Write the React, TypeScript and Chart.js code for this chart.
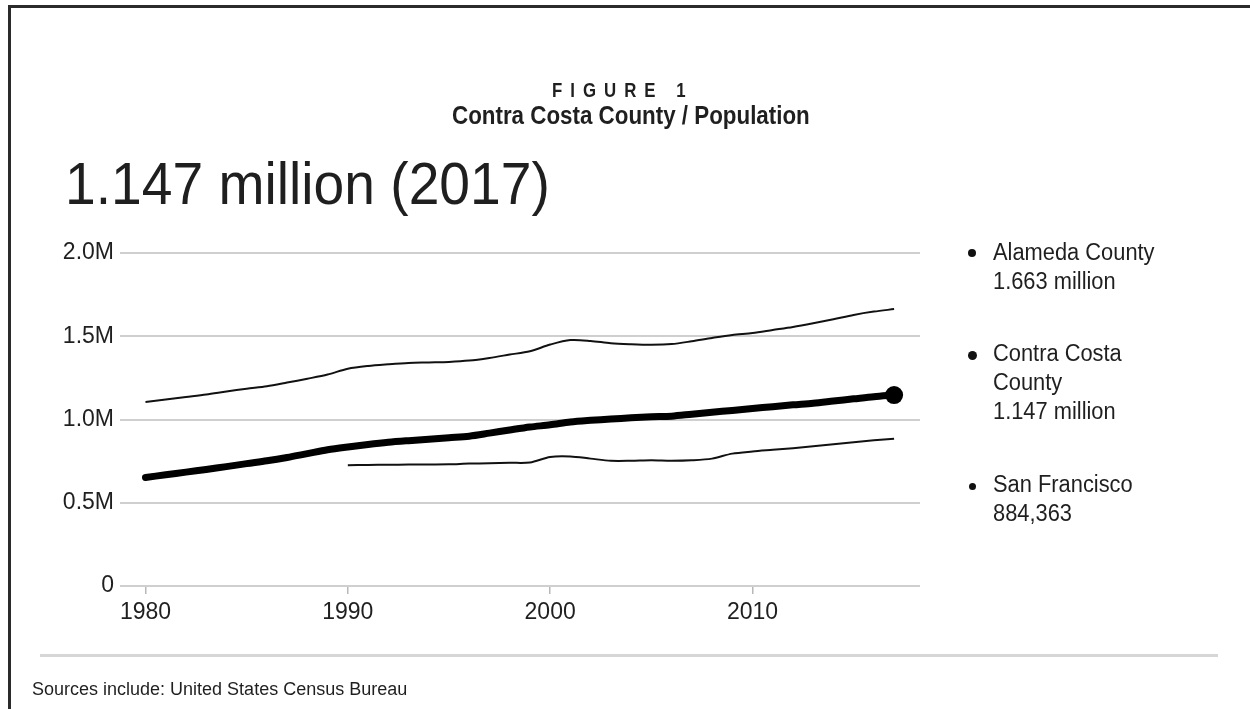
import React, { useEffect, useRef } from "react";
import { Chart, registerables } from "chart.js";

Chart.register(...registerables);

// Population in millions, by year
const years = [
  1980, 1981, 1982, 1983, 1984, 1985, 1986, 1987, 1988, 1989,
  1990, 1991, 1992, 1993, 1994, 1995, 1996, 1997, 1998, 1999,
  2000, 2001, 2002, 2003, 2004, 2005, 2006, 2007, 2008, 2009,
  2010, 2011, 2012, 2013, 2014, 2015, 2016, 2017,
];
const alameda = [
  1.105, 1.12, 1.135, 1.15, 1.168, 1.185, 1.2, 1.222, 1.245, 1.27,
  1.305, 1.322, 1.332, 1.34, 1.343, 1.346, 1.354, 1.37, 1.39, 1.41,
  1.45, 1.477, 1.472, 1.458, 1.452, 1.449, 1.453, 1.47, 1.49, 1.508,
  1.52, 1.538, 1.556, 1.578, 1.602, 1.628, 1.648, 1.663,
];
const contraCosta = [
  0.652, 0.668, 0.684, 0.7, 0.717, 0.735, 0.752, 0.772, 0.795, 0.818,
  0.835, 0.85, 0.863, 0.873, 0.882, 0.891, 0.9, 0.918, 0.937, 0.955,
  0.968, 0.985, 0.995, 1.003, 1.01, 1.016, 1.02, 1.032, 1.044, 1.054,
  1.066, 1.077, 1.088, 1.098, 1.111, 1.124, 1.137, 1.147,
];
const sfYears = [
  1990, 1991, 1992, 1993, 1994, 1995, 1996, 1997, 1998, 1999,
  2000, 2001, 2002, 2003, 2004, 2005, 2006, 2007, 2008, 2009,
  2010, 2011, 2012, 2013, 2014, 2015, 2016, 2017,
];
const sanFrancisco = [
  0.725, 0.727, 0.728, 0.729, 0.73, 0.731, 0.735, 0.737, 0.74, 0.742,
  0.775, 0.778, 0.765, 0.752, 0.752, 0.755, 0.752, 0.755, 0.765, 0.795,
  0.808, 0.818, 0.828, 0.84, 0.852, 0.864, 0.875, 0.884,
];

const xTicks = [1980, 1990, 2000, 2010];
const yTicks = [0, 0.5, 1.0, 1.5, 2.0];
const yTickLabels = ["0", "0.5M", "1.0M", "1.5M", "2.0M"];

const legendItems = [
  { lines: ["Alameda County", "1.663 million"], top: 238, dot: 253, r: 4 },
  { lines: ["Contra Costa", "County", "1.147 million"], top: 339, dot: 355, r: 4.5 },
  { lines: ["San Francisco", "884,363"], top: 470, dot: 486, r: 3.5 },
];

const FONT = '"Liberation Sans", Arial, sans-serif';
const INK = "#1f1f1f";

function toPoints(xs: number[], ys: number[]) {
  return xs.map((x, i) => ({ x, y: ys[i] }));
}

function PopulationChart() {
  const ref = useRef<HTMLCanvasElement | null>(null);

  useEffect(() => {
    if (!ref.current) return;
    const tickFont = { family: FONT, size: 23 };
    const last = years.length - 1;
    const chart = new Chart(ref.current, {
      type: "line",
      data: {
        datasets: [
          {
            label: "Alameda County",
            data: toPoints(years, alameda),
            borderColor: "#111",
            borderWidth: 2,
            tension: 0.3,
            pointRadius: 0,
          },
          {
            label: "Contra Costa County",
            data: toPoints(years, contraCosta),
            borderColor: "#000",
            backgroundColor: "#000",
            borderWidth: 7,
            borderCapStyle: "round",
            tension: 0.3,
            pointRadius: (c: any) => (c.dataIndex === last ? 9 : 0),
            pointBorderWidth: 0,
          },
          {
            label: "San Francisco",
            data: toPoints(sfYears, sanFrancisco),
            borderColor: "#111",
            borderWidth: 2,
            tension: 0.3,
            pointRadius: 0,
          },
        ],
      },
      options: {
        animation: false,
        responsive: true,
        maintainAspectRatio: false,
        layout: { padding: { left: 0, top: 253, right: 330, bottom: 0 } },
        plugins: { legend: { display: false }, tooltip: { enabled: false } },
        scales: {
          x: {
            type: "linear",
            min: 1978.74,
            max: 2018.28,
            afterBuildTicks: (s: any) => {
              s.ticks = xTicks.map((v) => ({ value: v }));
            },
            afterFit: (s: any) => {
              s.height = 123;
            },
            border: { display: false },
            grid: {
              drawOnChartArea: false,
              drawTicks: true,
              tickLength: 8,
              color: "#b8b8b8",
              lineWidth: 1.5,
            },
            ticks: {
              font: tickFont,
              color: INK,
              padding: 5,
              maxRotation: 0,
              autoSkip: false,
              callback: (v: any) => String(v),
            },
          },
          y: {
            min: 0,
            max: 2,
            afterBuildTicks: (s: any) => {
              s.ticks = yTicks.map((v) => ({ value: v }));
            },
            afterFit: (s: any) => {
              s.width = 120;
            },
            border: { display: false },
            grid: { color: "#cfcfcf", lineWidth: 2, drawTicks: false },
            ticks: {
              font: tickFont,
              color: INK,
              padding: 6,
              callback: (v: any) => yTickLabels[yTicks.indexOf(v)],
            },
          },
        },
      },
    } as any);
    return () => chart.destroy();
  }, []);

  return (
    <div style={{ position: "absolute", left: 0, top: 0, width: 1250, height: 709 }}>
      <canvas ref={ref} />
    </div>
  );
}

export default function App() {
  const squeeze = (sx: number): React.CSSProperties => ({
    display: "inline-block",
    transform: `scaleX(${sx})`,
    transformOrigin: "left top",
    whiteSpace: "nowrap",
  });

  return (
    <div
      style={{
        position: "fixed",
        left: 0,
        top: 0,
        width: 1250,
        height: 709,
        background: "#fff",
        overflow: "hidden",
        fontFamily: FONT,
        color: INK,
      }}
    >
      {/* frame */}
      <div style={{ position: "absolute", left: 8, top: 5, width: 1242, height: 3, background: "#2b2b2b" }} />
      <div style={{ position: "absolute", left: 8, top: 5, width: 3, height: 704, background: "#2b2b2b" }} />

      <PopulationChart />

      {/* headings */}
      <div
        style={{
          position: "absolute",
          left: 552,
          top: 78,
          fontWeight: 700,
          fontSize: 21,
          lineHeight: "24px",
          letterSpacing: 10,
          ...squeeze(0.8),
        }}
      >
        FIGURE 1
      </div>
      <div
        style={{
          position: "absolute",
          left: 452,
          top: 100,
          fontWeight: 700,
          fontSize: 26,
          lineHeight: "30px",
          ...squeeze(0.86),
        }}
      >
        Contra Costa County / Population
      </div>
      <div
        style={{
          position: "absolute",
          left: 65,
          top: 154,
          fontSize: 60,
          lineHeight: "60px",
          ...squeeze(0.92),
        }}
      >
        1.147 million (2017)
      </div>

      {/* series legend */}
      {legendItems.map((it) => (
        <React.Fragment key={it.lines[0]}>
          <div
            style={{
              position: "absolute",
              left: 972 - it.r,
              top: it.dot - it.r,
              width: it.r * 2,
              height: it.r * 2,
              borderRadius: "50%",
              background: "#111",
            }}
          />
          <div
            style={{
              position: "absolute",
              left: 993,
              top: it.top,
              fontSize: 23,
              lineHeight: "29px",
              ...squeeze(0.95),
            }}
          >
            {it.lines.map((l) => (
              <div key={l}>{l}</div>
            ))}
          </div>
        </React.Fragment>
      ))}

      {/* footer */}
      <div style={{ position: "absolute", left: 40, top: 654, width: 1178, height: 3, background: "#d6d6d6" }} />
      <div
        style={{
          position: "absolute",
          left: 32,
          top: 679,
          fontSize: 18,
          lineHeight: "20px",
          whiteSpace: "nowrap",
        }}
      >
        Sources include: United States Census Bureau
      </div>
    </div>
  );
}
